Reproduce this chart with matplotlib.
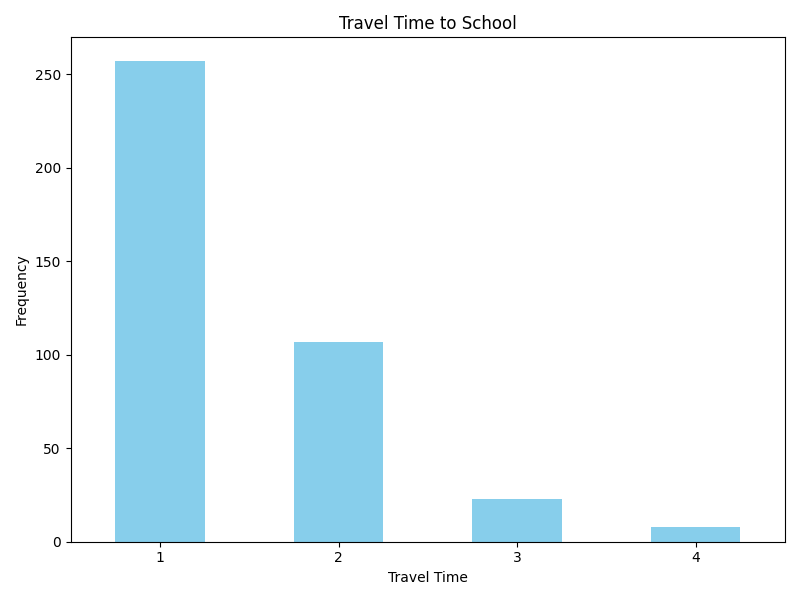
import matplotlib
matplotlib.use('Agg')
import matplotlib.pyplot as plt

travel_time = ['1', '2', '3', '4']
frequency = [257, 107, 23, 8]

fig, ax = plt.subplots(figsize=(8, 6), dpi=100)
x = range(len(travel_time))
ax.bar(x, frequency, width=0.5, color='skyblue')
ax.set_xticks(list(x))
ax.set_xticklabels(travel_time)
ax.set_xlim(-0.5, len(travel_time) - 0.5)
ax.set_title('Travel Time to School')
ax.set_xlabel('Travel Time')
ax.set_ylabel('Frequency')
plt.tight_layout()
plt.savefig('out.png')
